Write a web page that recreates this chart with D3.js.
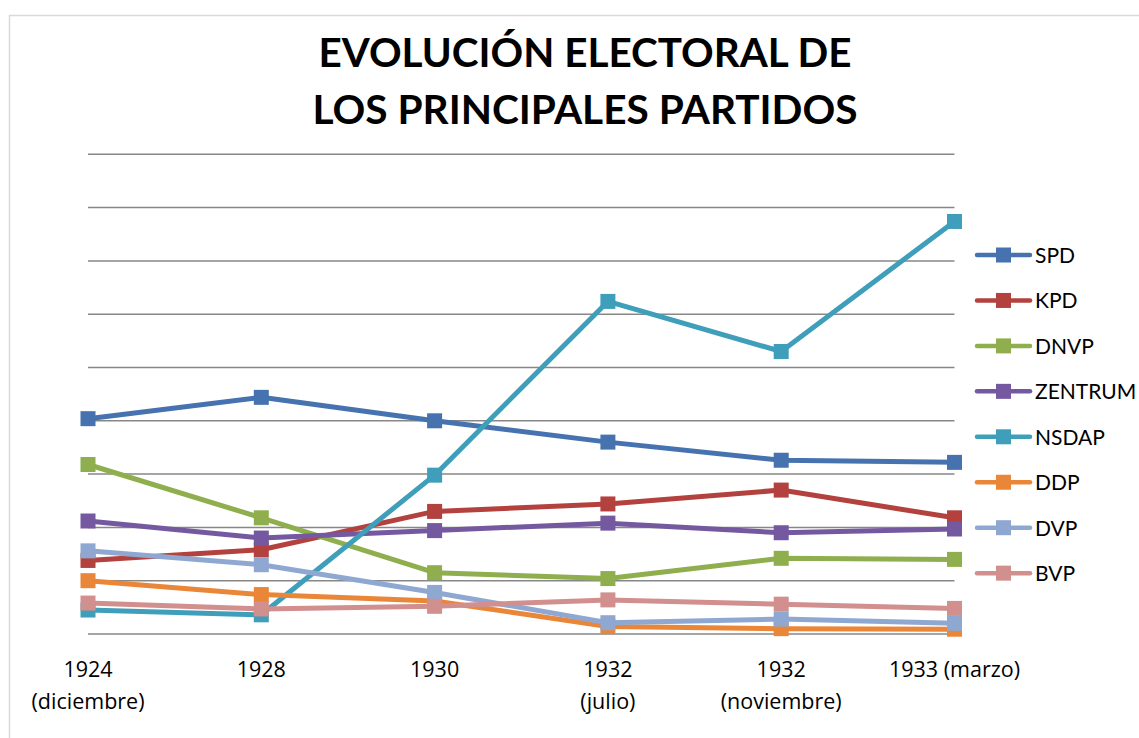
<!DOCTYPE html>
<html>
<head>
<meta charset="utf-8">
<script src="https://cdn.jsdelivr.net/npm/d3@7"></script>
<style>
  body { margin: 0; background: #fff; }
  svg { display: block; font-family: Lato, "Open Sans", sans-serif; }
</style>
</head>
<body>
<svg id="chart" width="1139" height="738"></svg>
<script>
// categories (x axis), two text lines each
var categories = ["1924 (diciembre)", "1928", "1930", "1932 (julio)", "1932 (noviembre)", "1933 (marzo)"];
var catLines = [["1924", "(diciembre)"], ["1928"], ["1930"], ["1932", "(julio)"], ["1932", "(noviembre)"], ["1933 (marzo)"]];

var parties = ["SPD", "KPD", "DNVP", "ZENTRUM", "NSDAP", "DDP", "DVP", "BVP"];

// values (no axis labels on the original)
var SPD     = [20.2, 22.2, 20.0, 18.0, 16.3, 16.1];
var KPD     = [6.9, 7.9, 11.5, 12.2, 13.5, 10.9];
var DNVP    = [15.9, 10.9, 5.75, 5.2, 7.1, 7.0];
var ZENTRUM = [10.6, 9.0, 9.7, 10.4, 9.5, 9.85];
var NSDAP   = [2.25, 1.8, 14.9, 31.2, 26.5, 38.7];
var DDP     = [5.0, 3.7, 3.1, 0.7, 0.5, 0.45];
var DVP     = [7.8, 6.5, 3.9, 1.06, 1.4, 1.0];
var BVP     = [2.9, 2.35, 2.6, 3.2, 2.8, 2.4];

var gridTicks = [0, 5, 10, 15, 20, 25, 30, 35, 40, 45];

var colors = ["#4673b0", "#b3423f", "#8fae4e", "#7459a0", "#3f9fbb", "#ea8638", "#8fa8d2", "#d18f8d"];

var seriesData = [SPD, KPD, DNVP, ZENTRUM, NSDAP, DDP, DVP, BVP];
var series = parties.map(function(p, i) {
	return {name: p, values: seriesData[i], color: colors[i]};
});

var svg = d3.select("#chart");

// outer chart frame (runs off the right / bottom edge like the screenshot)
svg.append("rect")
	.attr("x", 9.5).attr("y", 15.5)
	.attr("width", 1300).attr("height", 900)
	.attr("fill", "none")
	.attr("stroke", "#d9d9d9")
	.attr("stroke-width", 1.5);

var x = d3.scalePoint()
	.domain(categories)
	.range([88, 954.5]);

var y = d3.scaleLinear()
	.domain([0, 45])
	.range([634, 154.3]);

// title
var title = svg.append("g").attr("class", "title")
	.attr("font-weight", "bold")
	.attr("font-size", 40)
	.attr("text-anchor", "middle");
title.append("text").attr("x", 585).attr("y", 67)
	.attr("textLength", 533).attr("lengthAdjust", "spacingAndGlyphs")
	.text("EVOLUCIÓN ELECTORAL DE");
title.append("text").attr("x", 585).attr("y", 124)
	.attr("textLength", 545).attr("lengthAdjust", "spacingAndGlyphs")
	.text("LOS PRINCIPALES PARTIDOS");

// horizontal gridlines
svg.append("g").attr("class", "grid")
	.selectAll("line")
	.data(gridTicks)
	.enter()
	.append("line")
	.attr("x1", 88).attr("x2", 954.5)
	.attr("y1", function(d) { return y(d); })
	.attr("y2", function(d) { return y(d); })
	.attr("stroke", "#878787")
	.attr("stroke-width", 1.5);

// x labels
var xl = svg.append("g").attr("class", "xlabels")
	.attr("font-family", "'Open Sans', Lato, sans-serif")
	.attr("font-size", 21.5)
	.attr("fill", "#000")
	.attr("text-anchor", "middle")
	.selectAll("text")
	.data(categories)
	.enter()
	.append("text")
	.attr("x", function(d) { return x(d); })
	.attr("y", 677);
xl.selectAll("tspan")
	.data(function(d, i) { return catLines[i]; })
	.enter()
	.append("tspan")
	.attr("x", function() { return x(d3.select(this.parentNode).datum()); })
	.attr("dy", function(d, i) { return i === 0 ? 0 : 32; })
	.text(function(d) { return d; });

// lines + markers
var line = d3.line()
	.x(function(d, i) { return x(categories[i]); })
	.y(function(d) { return y(d); });

var g = svg.append("g").attr("class", "series")
	.selectAll("g")
	.data(series)
	.enter()
	.append("g");

g.append("path")
	.attr("d", function(d) { return line(d.values); })
	.attr("fill", "none")
	.attr("stroke", function(d) { return d.color; })
	.attr("stroke-width", 5)
	.attr("stroke-linejoin", "round")
	.attr("stroke-linecap", "round");

g.selectAll("rect")
	.data(function(d) { return d.values.map(function(v, i) { return {v: v, i: i, color: d.color}; }); })
	.enter()
	.append("rect")
	.attr("x", function(d) { return x(categories[d.i]) - 7.5; })
	.attr("y", function(d) { return y(d.v) - 7.5; })
	.attr("width", 15).attr("height", 15)
	.attr("fill", function(d) { return d.color; });

// legend
var legend = svg.append("g").attr("class", "legend")
	.selectAll("g")
	.data(series)
	.enter()
	.append("g")
	.attr("transform", function(d, i) { return "translate(0," + (255 + i * 45.45) + ")"; });

legend.append("line")
	.attr("x1", 977).attr("x2", 1030)
	.attr("stroke", function(d) { return d.color; })
	.attr("stroke-width", 4.5)
	.attr("stroke-linecap", "round");

legend.append("rect")
	.attr("x", 996).attr("y", -7.5)
	.attr("width", 15).attr("height", 15)
	.attr("fill", function(d) { return d.color; });

legend.append("text")
	.attr("x", 1035)
	.attr("y", 8)
	.attr("font-size", 21)
	.text(function(d) { return d.name; });
</script>
</body>
</html>
